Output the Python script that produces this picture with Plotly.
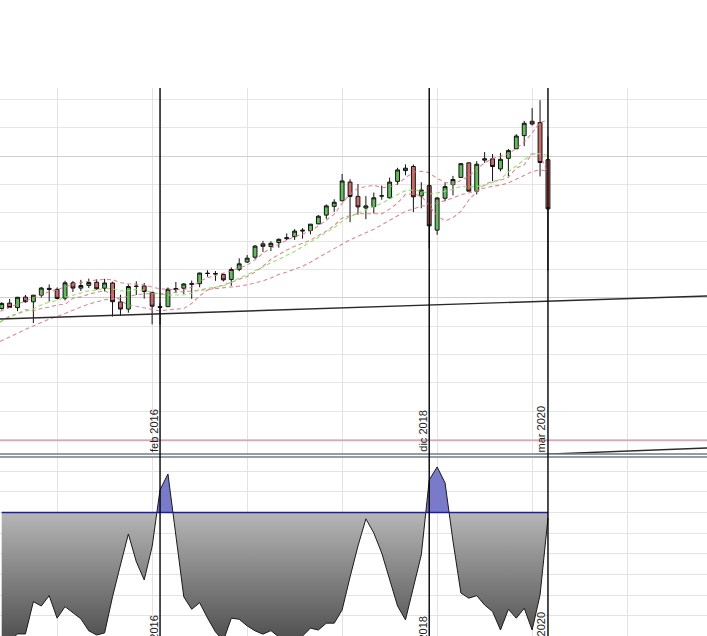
import numpy as np
import plotly.graph_objects as go

# ---------------- data ----------------
months = [
    "2014-06", "2014-07", "2014-08", "2014-09", "2014-10", "2014-11", "2014-12",
    "2015-01", "2015-02", "2015-03", "2015-04", "2015-05", "2015-06", "2015-07",
    "2015-08", "2015-09", "2015-10", "2015-11", "2015-12",
    "2016-01", "2016-02", "2016-03", "2016-04", "2016-05", "2016-06", "2016-07",
    "2016-08", "2016-09", "2016-10", "2016-11", "2016-12",
    "2017-01", "2017-02", "2017-03", "2017-04", "2017-05", "2017-06", "2017-07",
    "2017-08", "2017-09", "2017-10", "2017-11", "2017-12",
    "2018-01", "2018-02", "2018-03", "2018-04", "2018-05", "2018-06", "2018-07",
    "2018-08", "2018-09", "2018-10", "2018-11", "2018-12",
    "2019-01", "2019-02", "2019-03", "2019-04", "2019-05", "2019-06", "2019-07",
    "2019-08", "2019-09", "2019-10", "2019-11", "2019-12",
    "2020-01", "2020-02", "2020-03",
]
opens = [1924, 1962, 1930, 2004, 1971, 2018, 2066,
         2059, 1997, 2105, 2068, 2087, 2109, 2067, 2104, 1970, 1920, 2081, 2083,
         2038, 1937, 1937, 2057, 2067, 2094, 2099, 2173, 2171, 2164, 2129, 2200,
         2252, 2286, 2380, 2362, 2389, 2416, 2431, 2477, 2474, 2521, 2583, 2645,
         2684, 2816, 2715, 2633, 2643, 2719, 2705, 2821, 2897, 2926, 2718, 2791,
         2477, 2702, 2798, 2849, 2952, 2752, 2971, 2980, 2909, 2984, 3051, 3144,
         3245, 3236, 2974]
highs = [1968, 1991, 2005, 2019, 2018, 2076, 2094,
         2072, 2120, 2118, 2126, 2135, 2130, 2133, 2113, 2021, 2094, 2116, 2104,
         2038, 1963, 2072, 2111, 2103, 2121, 2177, 2194, 2188, 2170, 2214, 2278,
         2301, 2372, 2401, 2398, 2419, 2454, 2484, 2491, 2519, 2583, 2658, 2695,
         2873, 2836, 2802, 2717, 2742, 2791, 2848, 2917, 2941, 2940, 2815, 2800,
         2709, 2813, 2860, 2950, 2954, 2964, 3028, 3014, 3022, 3050, 3154, 3248,
         3338, 3394, 3137]
lows = [1916, 1931, 1905, 1964, 1821, 2001, 1973,
        1988, 1981, 2040, 2048, 2068, 2056, 2044, 1867, 1872, 1894, 2019, 1993,
        1812, 1810, 1937, 2034, 2026, 1992, 2074, 2148, 2119, 2115, 2084, 2187,
        2245, 2272, 2322, 2329, 2353, 2406, 2408, 2417, 2447, 2520, 2557, 2606,
        2682, 2533, 2586, 2554, 2595, 2692, 2699, 2796, 2864, 2604, 2631, 2347,
        2444, 2682, 2722, 2849, 2751, 2729, 2952, 2822, 2892, 2856, 3051, 3070,
        3215, 2856, 2191]
closes = [1960, 1931, 2003, 1972, 2018, 2068, 2059,
          1995, 2105, 2068, 2086, 2107, 2063, 2104, 1972, 1920, 2079, 2080, 2044,
          1940, 1932, 2060, 2065, 2097, 2099, 2174, 2171, 2168, 2126, 2199, 2239,
          2279, 2364, 2363, 2384, 2412, 2423, 2470, 2472, 2519, 2575, 2648, 2674,
          2824, 2714, 2641, 2648, 2705, 2718, 2816, 2902, 2914, 2712, 2760, 2507,
          2704, 2784, 2834, 2946, 2752, 2942, 2980, 2926, 2977, 3038, 3141, 3231,
          3226, 2954, 2627]

# months before the visible window (feed the averages at the left edge)
pre_months = ["2012-10", "2012-11", "2012-12", "2013-01", "2013-02", "2013-03",
              "2013-04", "2013-05", "2013-06", "2013-07", "2013-08", "2013-09",
              "2013-10", "2013-11", "2013-12", "2014-01", "2014-02", "2014-03",
              "2014-04", "2014-05"]
pre_closes = [1412, 1416, 1426, 1498, 1515, 1569, 1598, 1631, 1606, 1686, 1633,
              1682, 1757, 1806, 1848, 1783, 1859, 1872, 1884, 1924]
pre_hl_months = ["2014-01", "2014-02", "2014-03", "2014-04", "2014-05"]
pre_highs = [1851, 1868, 1884, 1897, 1924]
pre_lows = [1770, 1738, 1834, 1814, 1862]

hl_period = 5      # averages of highs and of lows (pink)
mid_period = 10    # average of closes (green)
slow_period = 20   # slow average of closes (pink)

osc_values = [18, 18, 21.3, 21.3, 36.9, 34.8, 39.8, 28.9, 34.5, 31.7, 28.6, 22.8,
              20.8, 21.8, 39.3, 54.6, 69.6, 56.2, 47.4, 63.5, 90.9, 98.6, 69.1,
              39.2, 33.2, 36.4, 29.0, 22.3, 18, 28.9, 28.4, 25.2, 22.8, 21.2, 22.9,
              19.9, 18, 18, 20.3, 24.1, 23.2, 26.5, 26.5, 32.9, 48.8, 63.8, 76.9,
              70.1, 60.4, 47.4, 34.8, 28.1, 43.5, 59.5, 95.7, 102.0, 94.3, 66.2,
              41.1, 38.6, 39.8, 35.3, 32.1, 23.2, 33.2, 28.9, 33.7, 23.2, 40.1, 77.3]
osc_threshold = 80

event_months = ["2016-02", "2018-12", "2020-03"]
event_labels = ["feb 2016", "dic 2018", "mar 2020"]

trend_months = ["2014-05", "2021-12"]
trend_prices = [1848, 2014]
trend2_months = ["2019-06", "2021-12"]
trend2_prices = [877, 941]
level_price = 992


def idx(m):
    y, mo = m.split("-")
    return (int(y) - 2014) * 12 + (int(mo) - 6)


x = np.array([idx(m) for m in months], dtype=float)
W, H = 707, 636
PINK = "rgba(212,118,128,0.85)"
GREEN = "rgba(140,228,100,0.95)"

fig = go.Figure()

# ---------------- price pane ----------------
def sma(xs, vals, n):
    xs = np.asarray(xs, dtype=float); vals = np.asarray(vals, dtype=float)
    m = np.convolve(vals, np.ones(n) / n, mode="valid")
    xo = xs[n - 1:]
    keep = xo >= -1
    return xo[keep], m[keep]


cx = [idx(m) for m in pre_months + months]
hx = [idx(m) for m in pre_hl_months + months]
line_sets = [
    sma(cx, pre_closes + closes, slow_period) + (PINK,),
    sma(hx, pre_lows + lows, hl_period) + (PINK,),
    sma(hx, pre_highs + highs, hl_period) + (PINK,),
    sma(cx, pre_closes + closes, mid_period) + (GREEN,),
]
for lx, ly, col in line_sets:
    fig.add_trace(go.Scatter(x=lx, y=ly, mode="lines",
                             line=dict(color=col, width=1.1, dash="4px,3px"),
                             hoverinfo="skip", xaxis="x", yaxis="y"))

fig.add_trace(go.Candlestick(
    x=x, open=opens, high=highs, low=lows, close=closes,
    increasing=dict(fillcolor="#62bd5e", line=dict(color="#111111", width=1)),
    decreasing=dict(fillcolor="#c96a6a", line=dict(color="#111111", width=1)),
    whiskerwidth=0, xaxis="x", yaxis="y"))

fig.add_trace(go.Scatter(x=[idx(m) for m in trend_months], y=trend_prices,
                         mode="lines", line=dict(color="#2a2a2a", width=1.4),
                         hoverinfo="skip", xaxis="x", yaxis="y"))
fig.add_trace(go.Scatter(x=[idx(m) for m in trend2_months], y=trend2_prices,
                         mode="lines", line=dict(color="#2a2a2a", width=1.4),
                         hoverinfo="skip", xaxis="x", yaxis="y"))

# ---------------- oscillator pane ----------------
T = osc_threshold
ox, oy = [], []
for k in range(len(osc_values)):
    ox.append(x[k]); oy.append(osc_values[k])
    if k < len(osc_values) - 1:
        a = osc_values[k] - T
        b = osc_values[k + 1] - T
        if a * b < 0:
            t = a / (a - b)
            ox.append(x[k] + t * (x[k + 1] - x[k])); oy.append(T)
ox = np.array(ox); oy = np.array(oy)
base = np.full_like(oy, T)

fig.add_trace(go.Scatter(x=ox, y=base, mode="lines", line=dict(width=0),
                         hoverinfo="skip", xaxis="x2", yaxis="y2"))
fig.add_trace(go.Scatter(x=ox, y=np.minimum(oy, T), mode="lines", line=dict(width=0),
                         fill="tonexty",
                         fillgradient=dict(type="vertical",
                                           colorscale=[[0, "#525252"], [1, "#b6b6b6"]],
                                           start=20, stop=80),
                         hoverinfo="skip", xaxis="x2", yaxis="y2"))
fig.add_trace(go.Scatter(x=ox, y=base, mode="lines", line=dict(width=0),
                         hoverinfo="skip", xaxis="x2", yaxis="y2"))
fig.add_trace(go.Scatter(x=ox, y=np.maximum(oy, T), mode="lines", line=dict(width=0),
                         fill="tonexty", fillcolor="#7a7acb",
                         hoverinfo="skip", xaxis="x2", yaxis="y2"))
fig.add_trace(go.Scatter(x=x, y=osc_values, mode="lines",
                         line=dict(color="#1a1a1a", width=1),
                         hoverinfo="skip", xaxis="x2", yaxis="y2"))
fig.add_trace(go.Scatter(x=[x[0], x[-1]], y=[T, T], mode="lines",
                         line=dict(color="#1c1ca8", width=1.4),
                         hoverinfo="skip", xaxis="x2", yaxis="y2"))

# ---------------- layout ----------------
def py(px):
    return 1 - px / H

x_left = -1.7 / 7.917
x_right = (W - 1.7) / 7.917
jan_ticks = [idx(f"{yr}-01") for yr in range(2015, 2022)]

axis_x = dict(range=[x_left, x_right], showticklabels=False, ticks="",
              tickvals=jan_ticks, showgrid=True, gridcolor="#e3e3e3", gridwidth=1,
              zeroline=False, showline=False, rangeslider=dict(visible=False))

fig.update_layout(
    width=W, height=H, margin=dict(l=0, r=0, t=0, b=0),
    paper_bgcolor="white", plot_bgcolor="white", showlegend=False,
    font=dict(family="Liberation Sans, Arial, sans-serif", color="#222222"),
    xaxis=dict(axis_x, domain=[0, 1], anchor="y"),
    xaxis2=dict(axis_x, domain=[0, 1], anchor="y2", matches="x"),
    yaxis=dict(domain=[py(454), py(88)], range=[897, 3480], showticklabels=False,
               ticks="", zeroline=False, showgrid=True, tick0=0, dtick=1000,
               gridcolor="#cfcfcf", gridwidth=1,
               minor=dict(dtick=200, showgrid=True, gridcolor="#e6e6e6", gridwidth=1)),
    yaxis2=dict(domain=[0, py(457)], range=[20.3, 106.8], showticklabels=False,
                ticks="", zeroline=False, showgrid=True, tick0=0, dtick=10,
                gridcolor="#e3e3e3", gridwidth=1),
)

shapes = []
shapes.append(dict(type="line", xref="paper", yref="y", x0=0, x1=1,
                   y0=level_price, y1=level_price,
                   line=dict(color="#e2a4ae", width=1.2), layer="above"))
for yy in (454, 457):
    shapes.append(dict(type="line", xref="paper", yref="paper", x0=0, x1=1,
                       y0=py(yy), y1=py(yy), line=dict(color="#6e7e86", width=1.5)))
for m in event_months:
    shapes.append(dict(type="line", xref="x", yref="paper", x0=idx(m), x1=idx(m),
                       y0=0, y1=py(88), line=dict(color="#000000", width=1.4),
                       layer="above"))
fig.update_layout(shapes=shapes)

ann = []
for m, lab in zip(event_months, event_labels):
    for ybot in (453, 659):
        ann.append(dict(x=idx(m), xref="x", y=py(ybot), yref="paper", text=lab,
                        showarrow=False, textangle=-90, xanchor="center",
                        yanchor="bottom", xshift=-6.5,
                        font=dict(size=11, color="#222222"), borderpad=0))
fig.update_layout(annotations=ann)

fig.write_html("out.html", config={"displayModeBar": False, "staticPlot": True})

# remove the default 8px page margin so the figure fills the window exactly
with open("out.html", encoding="utf-8") as f:
    html = f.read()
html = html.replace("<head>", "<head><style>html,body{margin:0;padding:0;overflow:hidden;}</style>", 1)
with open("out.html", "w", encoding="utf-8") as f:
    f.write(html)
